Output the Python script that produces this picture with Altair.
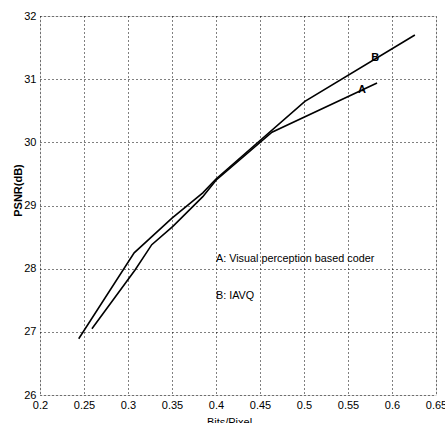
import altair as alt
import pandas as pd

# Series A: Visual perception based coder
a_x = [0.259, 0.308, 0.327, 0.351, 0.385, 0.400, 0.4636, 0.583]
a_y = [27.05, 27.98, 28.38, 28.67, 29.14, 29.40, 30.16, 30.94]
# Series B: IAVQ
b_x = [0.244, 0.307, 0.350, 0.385, 0.400, 0.501, 0.626]
b_y = [26.89, 28.25, 28.80, 29.20, 29.42, 30.65, 31.70]

# Curve end labels
lab_text = ["A", "B"]
lab_x = [0.566, 0.581]
lab_y = [30.83, 31.33]

# Annotation texts
note_text = ["A: Visual perception based coder", "B: IAVQ"]
note_x = [0.4, 0.4]
note_y = [28.16, 27.56]

x_ticks = [0.2, 0.25, 0.3, 0.35, 0.4, 0.45, 0.5, 0.55, 0.6, 0.65]
y_ticks = [26, 27, 28, 29, 30, 31, 32]

df = pd.DataFrame({
    "x": a_x + b_x,
    "y": a_y + b_y,
    "s": ["A"] * len(a_x) + ["B"] * len(b_x),
})
labels = pd.DataFrame({"t": lab_text, "x": lab_x, "y": lab_y})
notes = pd.DataFrame({"t": note_text, "x": note_x, "y": note_y})

FONT = "Liberation Sans"

xs = alt.Scale(domain=[0.2, 0.65], nice=False, zero=False)
ys = alt.Scale(domain=[26, 32], nice=False, zero=False)

xax = alt.Axis(values=x_ticks, format="~g", title="Bits/Pixel", grid=True,
               gridColor="black", gridDash=[1, 3], gridWidth=1, gridOpacity=1,
               tickSize=0, labelPadding=4, labelFont=FONT, labelFontSize=11,
               labelColor="black", titleFont=FONT, titleFontSize=11,
               titleFontWeight="normal", titleColor="black", titleX=189,
               titleY=21, titleBaseline="top", titleAlign="center",
               domain=False, labelFlush=False, labelOverlap=False)
yax = alt.Axis(values=y_ticks, format="d", title="PSNR(dB)", grid=True,
               gridColor="black", gridDash=[1, 3], gridWidth=1, gridOpacity=1,
               tickSize=0, labelPadding=4, labelFont=FONT, labelFontSize=11,
               labelColor="black", titleFont=FONT, titleFontSize=11,
               titleFontWeight="bold", titleColor="black", titleX=-22,
               titleY=174, titleAngle=-90, titleBaseline="middle",
               titleAlign="center", domain=False, labelFlush=False,
               labelOverlap=False)

lines = alt.Chart(df).mark_line(color="black", strokeWidth=1.6).encode(
    x=alt.X("x:Q", scale=xs, axis=xax),
    y=alt.Y("y:Q", scale=ys, axis=yax),
    detail="s:N",
    order="x:Q",
)

lab = alt.Chart(labels).mark_text(font=FONT, fontSize=11, fontWeight="bold",
                                  color="black", align="center",
                                  baseline="middle").encode(
    x=alt.X("x:Q", scale=xs), y=alt.Y("y:Q", scale=ys), text="t:N")

nt = alt.Chart(notes).mark_text(font=FONT, fontSize=10.8, color="black",
                                align="left", baseline="middle").encode(
    x=alt.X("x:Q", scale=xs), y=alt.Y("y:Q", scale=ys), text="t:N")

chart = alt.layer(lines, lab, nt).properties(
    width=396, height=379,
    autosize=alt.AutoSizeParams(type="none"),
    padding={"left": 40, "top": 16, "right": 9, "bottom": 28},
).configure_view(stroke="black", strokeWidth=1.5).configure(background="white")

chart.save("out.html", embed_options={"renderer": "svg", "actions": False})
